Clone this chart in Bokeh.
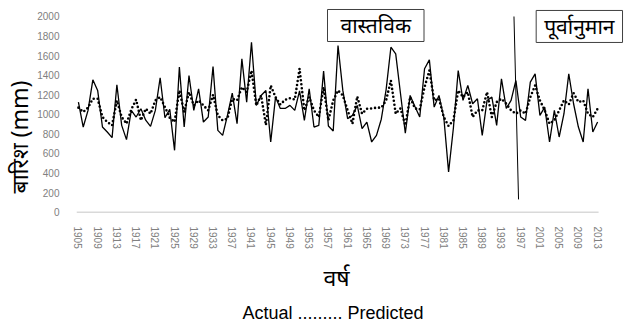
import math
from bokeh.plotting import figure
from bokeh.models import Range1d, FixedTicker, Label, Title
from bokeh.embed import file_html
from bokeh.resources import INLINE

years = list(range(1905, 2014))
actual = [1125, 870, 1040, 1353, 1244, 870, 819, 762, 1302, 887,
          741, 1040, 972, 1057, 940, 877, 1040, 1374, 965, 1050,
          632, 1482, 870, 1397, 1040, 1261, 921, 972, 1489, 836,
          785, 990, 1217, 904, 1567, 1125, 1737, 1091, 1193, 1244,
          717, 1176, 1060, 1060, 1091, 1040, 1240, 938, 1261, 870,
          887, 1441, 880, 829, 1703, 1244, 955, 989, 1091, 853,
          921, 717, 785, 950, 1250, 1686, 1618, 1210, 806, 1193,
          1080, 972, 1466, 1557, 1074, 1193, 972, 411, 860, 1448,
          1142, 1295, 1108, 1159, 785, 1142, 1176, 887, 1363, 1060,
          1142, 1346, 972, 938, 1329, 1414, 989, 1074, 717, 1040,
          768, 1006, 1414, 1108, 870, 717, 1261, 819, 921]
predicted = [1068, 1023, 1068, 1159, 1159, 972, 921, 887, 1142, 972,
             904, 1050, 1150, 938, 1057, 1006, 1142, 1176, 1074, 965,
             921, 1244, 1023, 1227, 1091, 1142, 1091, 1040, 1200, 989,
             938, 955, 1159, 1142, 1278, 1227, 1448, 1091, 1193, 890,
             1295, 1176, 1100, 1149, 1165, 1150, 1466, 1040, 1176, 1040,
             972, 1278, 938, 1142, 1244, 1193, 1040, 904, 1183, 1006,
             1057, 1060, 1068, 1068, 1142, 1346, 1006, 1060, 887, 1176,
             1060, 1050, 1278, 1448, 1142, 1159, 972, 880, 938, 1244,
             1176, 1227, 972, 1040, 1040, 1227, 972, 1125, 1159, 1108,
             1040, 1006, 1040, 1006, 1176, 1295, 1142, 1040, 904, 938,
             1040, 1142, 1100, 1217, 1125, 1142, 1006, 972, 1057]
year_ticks = list(range(1905, 2014, 4))
y_ticks = list(range(0, 2001, 200))
divider_x = [1995.6, 1996.55]
divider_y = [2000, 130]
baseline_x = [1904.6, 2013.2]
baseline_y = [0, 0]

y_label = "बारिश  (mm)"
x_label = "वर्ष"
legend_text = "Actual ......... Predicted"
box_left_text = "वास्तविक"
box_right_text = "पूर्वानुमान"

p = figure(width=625, height=322, output_backend="svg", toolbar_location=None,
           x_range=Range1d(1904.6, 2018.8), y_range=Range1d(-14, 2143),
           min_border_left=76, min_border_right=0, min_border_top=2,
           min_border_bottom=109)
p.outline_line_color = None
p.xgrid.visible = False
p.ygrid.visible = False

tick_color = "#808080"
p.xaxis.ticker = FixedTicker(ticks=year_ticks)
p.xaxis.major_label_orientation = "vertical"
p.xaxis.axis_line_color = None
p.xaxis.major_tick_line_color = None
p.xaxis.minor_tick_line_color = None
p.xaxis.major_label_text_color = tick_color
p.xaxis.major_label_text_font = "Liberation Sans"
p.xaxis.major_label_text_font_size = "10px"
p.xaxis.major_label_standoff = 7

p.yaxis.ticker = FixedTicker(ticks=y_ticks)
p.yaxis.axis_line_color = None
p.yaxis.major_tick_line_color = None
p.yaxis.minor_tick_line_color = None
p.yaxis.major_label_text_color = tick_color
p.yaxis.major_label_text_font = "Liberation Sans"
p.yaxis.major_label_text_font_size = "10px"
p.yaxis.major_label_standoff = 11

p.line(baseline_x, baseline_y, line_color="#d9d9d9", line_width=1.5)
p.line(years, actual, line_color="black", line_width=1.3)
p.line(years, predicted, line_color="black", line_width=2.6,
       line_dash="0 4", line_cap="round")
p.line(divider_x, divider_y, line_color="black", line_width=1)

p.add_layout(Label(x=1966.85, y=1908, text=box_left_text,
                   text_align="center", text_baseline="middle",
                   text_font="Noto Sans", text_font_size="21px", text_color="black",
                   background_fill_color="white", border_line_color="#404040",
                   border_line_width=1,
                   padding=dict(left=13, right=13, top=2, bottom=2)))
p.add_layout(Label(x=2009.2, y=1898, text=box_right_text,
                   text_align="center", text_baseline="middle",
                   text_font="Noto Sans", text_font_size="21px", text_color="black",
                   background_fill_color="white", border_line_color="#404040",
                   border_line_width=1,
                   padding=dict(left=8, right=8, top=2, bottom=2)))

p.add_layout(Title(text=y_label, align="left", offset=20, standoff=0,
                   text_font="Noto Sans", text_font_size="23px",
                   text_font_style="normal", text_color="black"), "left")
p.add_layout(Title(text=x_label, align="left", offset=247, standoff=15,
                   text_font="Noto Sans", text_font_size="23px",
                   text_font_style="normal", text_color="black"), "below")
p.add_layout(Title(text=legend_text, align="left", offset=166, standoff=0,
                   text_font="Liberation Sans", text_font_size="18px",
                   text_font_style="normal", text_color="black"), "below")

open("out.html", "w").write(file_html(p, INLINE))
